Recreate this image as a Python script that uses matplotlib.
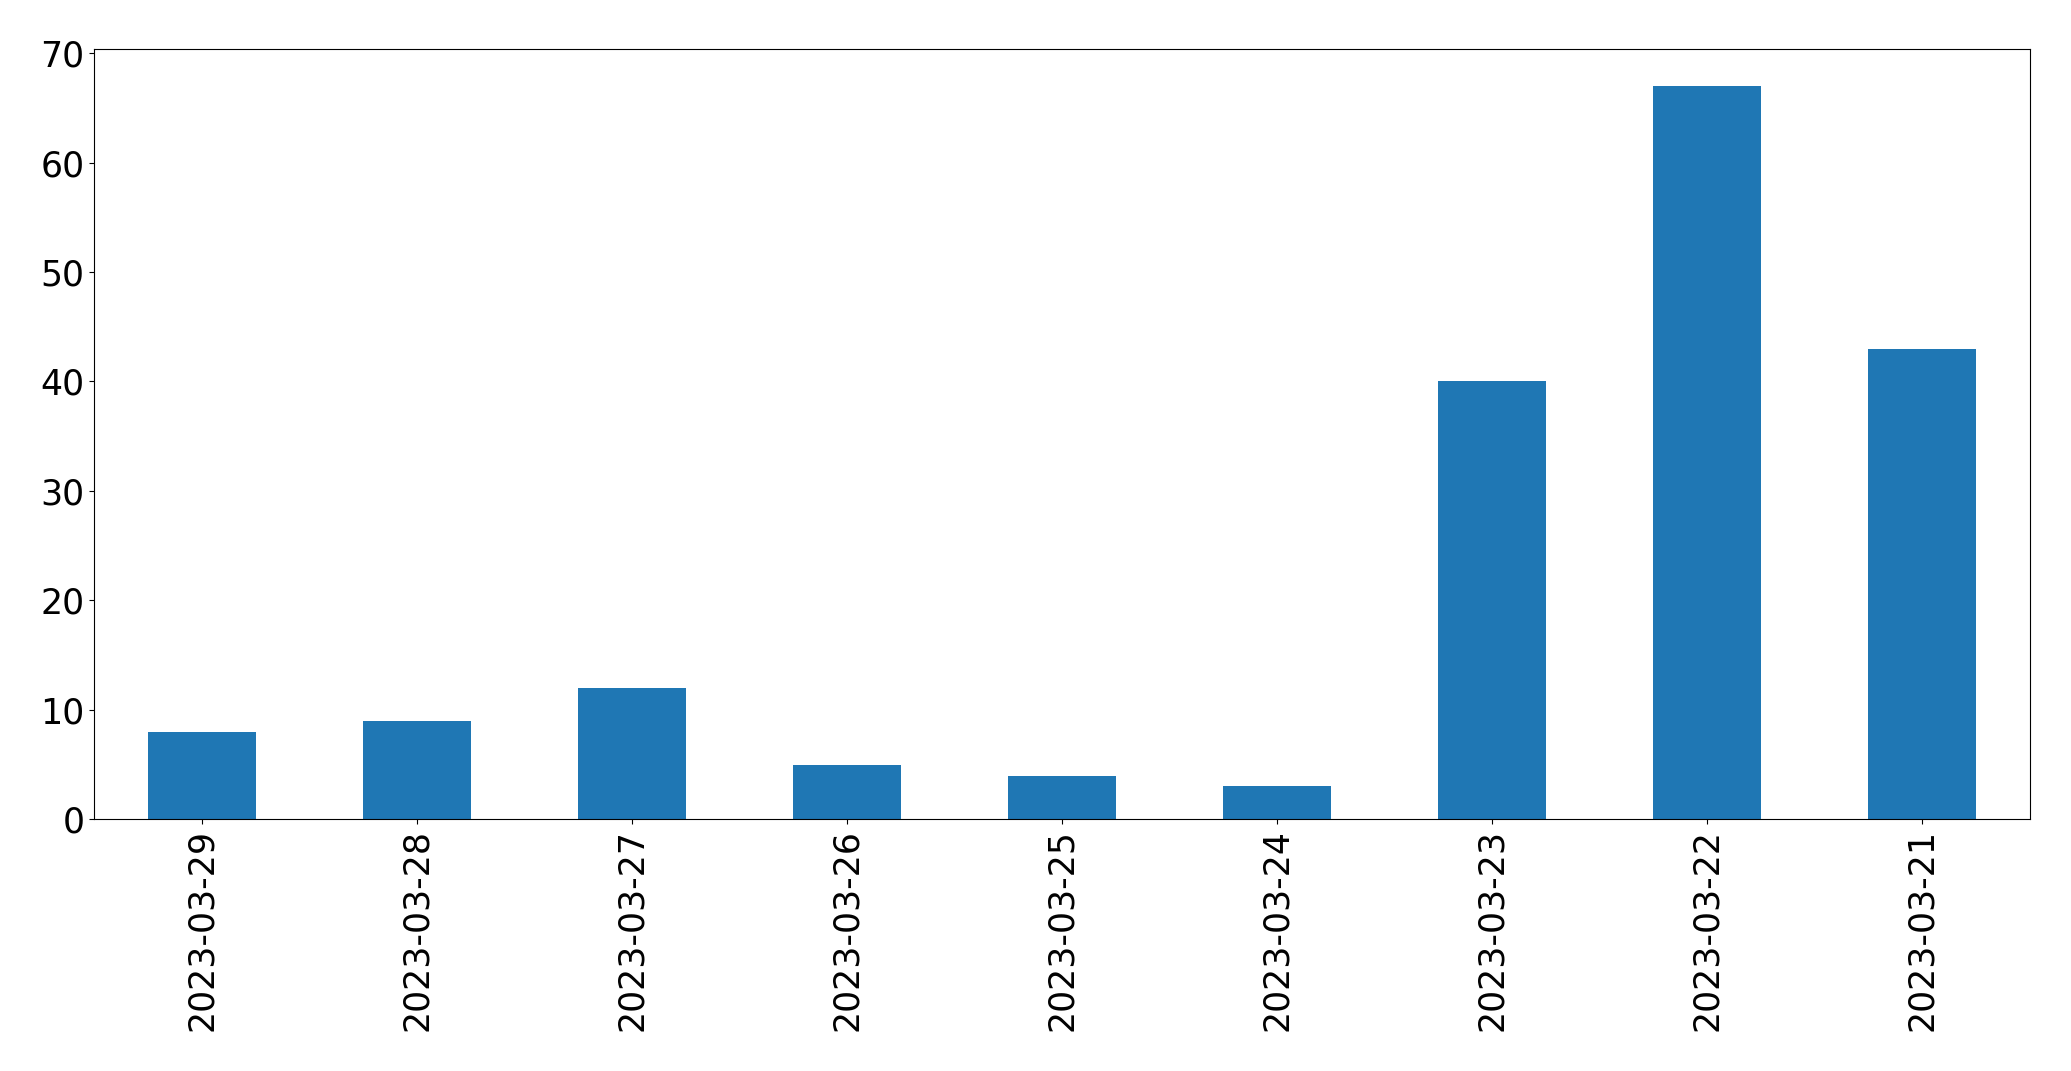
import matplotlib
matplotlib.use("Agg")
import matplotlib.pyplot as plt
import numpy as np

dates = ["2023-03-29", "2023-03-28", "2023-03-27", "2023-03-26", "2023-03-25",
         "2023-03-24", "2023-03-23", "2023-03-22", "2023-03-21"]
counts = [8, 9, 12, 5, 4, 3, 40, 67, 43]

x = np.arange(len(dates))

fig, ax = plt.subplots(figsize=(20.71, 10.71), dpi=100)
ax.bar(x, counts, width=0.5, color="#1f77b4")
ax.set_xticks(x)
ax.set_xticklabels(dates, rotation=90)
ax.set_xlim(-0.5, len(dates) - 0.5)
ax.tick_params(labelsize=25)

fig.subplots_adjust(left=0.0455, right=0.980, top=0.954, bottom=0.235)
plt.savefig("out.png", dpi=100)
